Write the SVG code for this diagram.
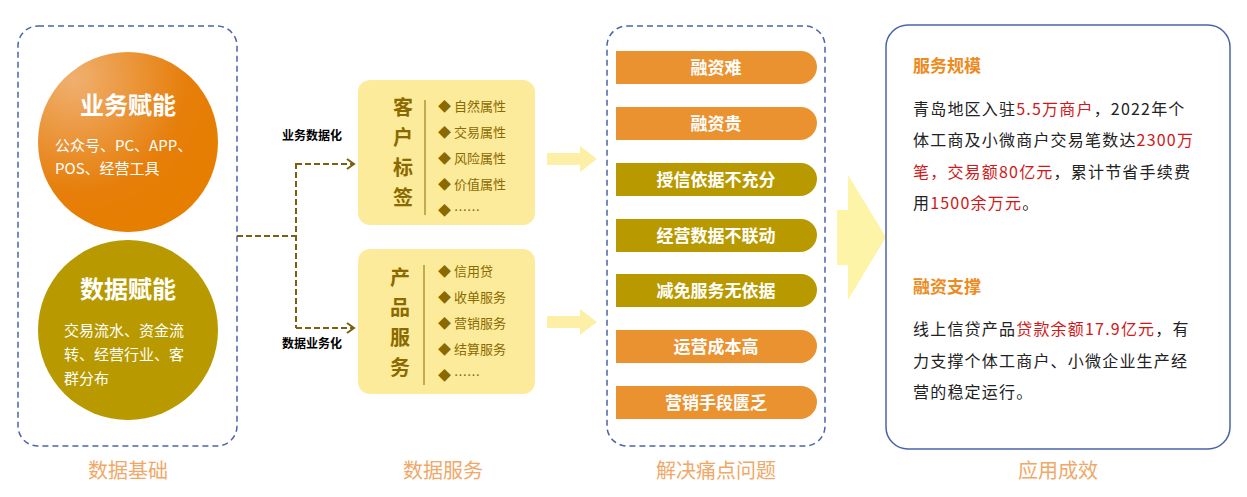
<svg xmlns="http://www.w3.org/2000/svg" width="1247" height="497" viewBox="0 0 1247 497">
<defs>
<radialGradient id="g1" cx="0.2" cy="0.15" r="0.9"><stop offset="0" stop-color="#f0b070"/><stop offset="0.7" stop-color="#e67e0a"/><stop offset="1" stop-color="#e67e00"/></radialGradient>
<marker id="ah" markerWidth="10" markerHeight="12" refX="8" refY="6" orient="auto" markerUnits="userSpaceOnUse"><path d="M1,1 L8,6 L1,11" fill="none" stroke="#7a6010" stroke-width="2"/></marker>
</defs>
<style>
text{font-family:"Noto Sans CJK SC","Liberation Sans",sans-serif}
.dash{fill:none;stroke:#4a64a8;stroke-width:1.5;stroke-dasharray:6 4}
.foot{font-size:20px;fill:#f0a868;text-anchor:middle}
.ybox{fill:#fdeb9c}
.big{font-size:20px;font-weight:bold;fill:#8a6a00;text-anchor:middle}
.item{font-size:13px;fill:#8a6a00}
.pill{font-size:17px;font-weight:bold;fill:#fff;text-anchor:middle}
.o{fill:#eb9230}.y{fill:#b89a00}
.body{font-size:16px;fill:#222;letter-spacing:1.2px}
.red{fill:#d01818}
.h{font-size:17px;font-weight:bold;fill:#ed8a20}
.con{fill:none;stroke:#7a6010;stroke-width:2;stroke-dasharray:6 3}
</style>
<rect width="1247" height="497" fill="#fff"/>
<g id="base">
<rect class="dash" x="18" y="26" width="219" height="420" rx="20"/>
<circle cx="128" cy="142" r="90" fill="url(#g1)"/>
<text x="128" y="114" font-size="24" font-weight="bold" fill="#fff" text-anchor="middle">业务赋能</text>
<text x="55" y="151" font-size="15" fill="#fff">公众号、PC、APP、</text>
<text x="55" y="174" font-size="15" fill="#fff">POS、经营工具</text>
<circle cx="128" cy="330" r="90" fill="#b89a00"/>
<text x="128" y="298" font-size="24" font-weight="bold" fill="#fff" text-anchor="middle">数据赋能</text>
<text x="64" y="336" font-size="15" fill="#fff">交易流水、资金流</text>
<text x="64" y="360" font-size="15" fill="#fff">转、经营行业、客</text>
<text x="64" y="384" font-size="15" fill="#fff">群分布</text>
</g>
<g id="connectors">
<path class="con" d="M237,236 H296 M296,163 V328"/>
<path class="con" d="M296,164 H354" marker-end="url(#ah)"/>
<path class="con" d="M296,328 H354" marker-end="url(#ah)"/>
<text x="312" y="140" font-size="12" font-weight="bold" fill="#000" text-anchor="middle">业务数据化</text>
<text x="312" y="348" font-size="12" font-weight="bold" fill="#000" text-anchor="middle">数据业务化</text>
<polygon points="547,153 580,153 580,146 597,159 580,172 580,165 547,165" fill="#fdf0a6"/>
<polygon points="547,316 580,316 580,309 597,322 580,335 580,328 547,328" fill="#fdf0a6"/>
<polygon points="837,210 848,210 848,175 886,237 848,300 848,265 837,265" fill="#fdf4a8"/>
</g>
<g id="tag">
<rect class="ybox" x="358" y="80" width="177" height="145" rx="12"/>
<text class="big" x="403" y="115">客</text><text class="big" x="403" y="145">户</text><text class="big" x="403" y="175">标</text><text class="big" x="403" y="205">签</text>
<line x1="425" y1="100" x2="425" y2="215" stroke="#8a6a00" stroke-width="1"/>
<text class="item" x="438" y="111">◆  自然属性</text>
<text class="item" x="438" y="137">◆  交易属性</text>
<text class="item" x="438" y="163">◆  风险属性</text>
<text class="item" x="438" y="189">◆  价值属性</text>
<text class="item" x="438" y="215">◆  ……</text>
</g>
<g id="prod">
<rect class="ybox" x="358" y="249" width="177" height="145" rx="12"/>
<text class="big" x="400" y="285">产</text><text class="big" x="400" y="315">品</text><text class="big" x="400" y="345">服</text><text class="big" x="400" y="375">务</text>
<line x1="424" y1="265" x2="424" y2="385" stroke="#8a6a00" stroke-width="1"/>
<text class="item" x="438" y="276">◆  信用贷</text>
<text class="item" x="438" y="302">◆  收单服务</text>
<text class="item" x="438" y="328">◆  营销服务</text>
<text class="item" x="438" y="354">◆  结算服务</text>
<text class="item" x="438" y="380">◆  ……</text>
</g>
<g id="pain">
<rect class="dash" x="607" y="26" width="218" height="420" rx="20"/>
<path class="o" d="M616,51 H801 A16,16 0 0 1 817,67 A17,17 0 0 1 800,84 H616Z"/><text class="pill" x="716" y="74">融资难</text>
<path class="o" d="M616,107 H801 A16,16 0 0 1 817,123 A17,17 0 0 1 800,140 H616Z"/><text class="pill" x="716" y="130">融资贵</text>
<path class="y" d="M616,163 H801 A16,16 0 0 1 817,179 A17,17 0 0 1 800,196 H616Z"/><text class="pill" x="716" y="186">授信依据不充分</text>
<path class="y" d="M616,219 H801 A16,16 0 0 1 817,235 A17,17 0 0 1 800,252 H616Z"/><text class="pill" x="716" y="242">经营数据不联动</text>
<path class="y" d="M616,274 H801 A16,16 0 0 1 817,290 A17,17 0 0 1 800,307 H616Z"/><text class="pill" x="716" y="297">减免服务无依据</text>
<path class="o" d="M616,330 H801 A16,16 0 0 1 817,346 A17,17 0 0 1 800,363 H616Z"/><text class="pill" x="716" y="353">运营成本高</text>
<path class="o" d="M616,386 H801 A16,16 0 0 1 817,402 A17,17 0 0 1 800,419 H616Z"/><text class="pill" x="716" y="409">营销手段匮乏</text>
</g>
<g id="effect">
<rect x="886" y="25" width="344" height="424" rx="22" fill="#fff" stroke="#4a64a8" stroke-width="1.5"/>
<text class="h" x="913" y="72">服务规模</text>
<text class="body" x="913" y="115">青岛地区入驻<tspan class="red">5.5万商户</tspan>，2022年个</text>
<text class="body" x="913" y="146">体工商及小微商户交易笔数达<tspan class="red">2300万</tspan></text>
<text class="body" x="913" y="178"><tspan class="red">笔，交易额80亿元</tspan>，累计节省手续费</text>
<text class="body" x="913" y="209">用<tspan class="red">1500余万元</tspan>。</text>
<text class="h" x="913" y="293">融资支撑</text>
<text class="body" x="913" y="335">线上信贷产品<tspan class="red">贷款余额17.9亿元</tspan>，有</text>
<text class="body" x="913" y="367">力支撑个体工商户、小微企业生产经</text>
<text class="body" x="913" y="398">营的稳定运行。</text>
</g>
<g id="labels">
<text class="foot" x="128" y="478">数据基础</text>
<text class="foot" x="443" y="478">数据服务</text>
<text class="foot" x="716" y="478">解决痛点问题</text>
<text class="foot" x="1058" y="478">应用成效</text>
</g>
</svg>
